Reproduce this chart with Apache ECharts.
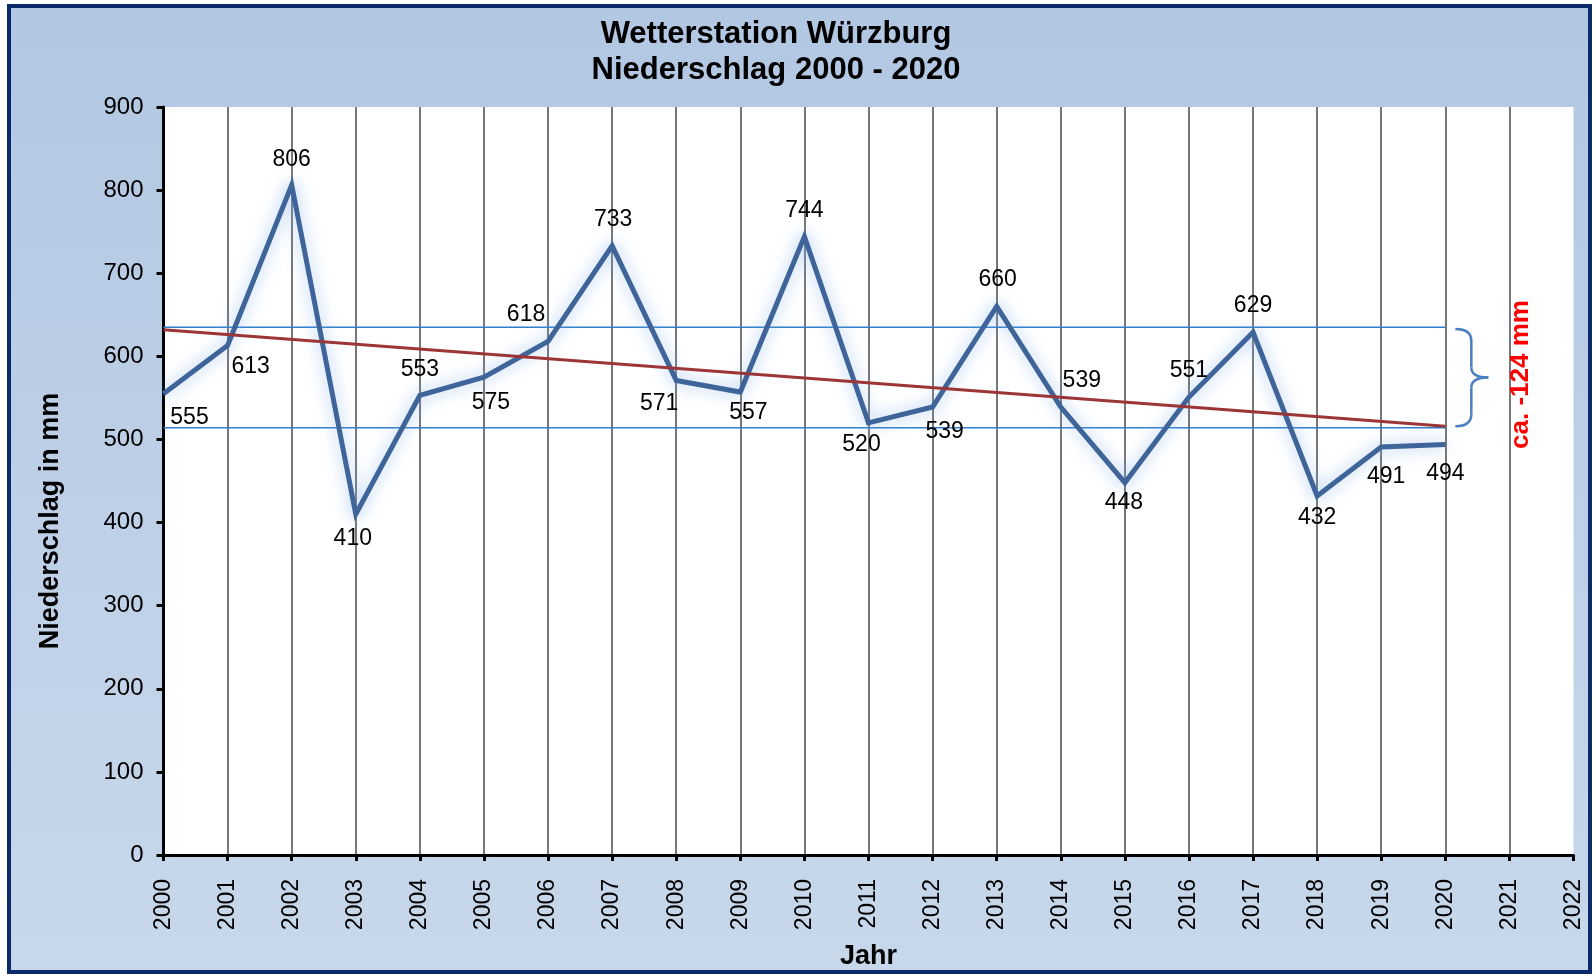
<!DOCTYPE html>
<html>
<head>
<meta charset="utf-8">
<title>Wetterstation Würzburg - Niederschlag</title>
<script src="https://cdn.jsdelivr.net/npm/echarts@6/dist/echarts.min.js"></script>
<style>
  html, body { margin: 0; padding: 0; background: #fff; }
  #frame {
    position: absolute; left: 7px; top: 4px; width: 1577px; height: 962px;
    border: 4px solid #0b2a6a;
    background: linear-gradient(to bottom, #b2c7e2, #c8d8eb);
  }
  #chart { position: absolute; left: 0; top: 0; width: 1596px; height: 977px; }
</style>
</head>
<body>
<div id="frame"></div>
<div id="chart"></div>
<script>
// Jahresniederschlag Würzburg (mm)
const years = [2000, 2001, 2002, 2003, 2004, 2005, 2006, 2007, 2008, 2009, 2010,
               2011, 2012, 2013, 2014, 2015, 2016, 2017, 2018, 2019, 2020];
const rain = [555, 613, 806, 410, 553, 575, 618, 733, 571, 557, 744,
              520, 539, 660, 539, 448, 551, 629, 432, 491, 494];

// Trendlinie (Anfang / Ende)
const trendYears = [2000, 2020];
const trendValues = [632, 516];

// Spanne der Trendlinie (obere / untere Hilfslinie)
const bandTop = 635;
const bandBottom = 514;
const bandNote = "ca. -124 mm";

// Beschriftungs-Versatz je Punkt (px, Mitte des Labels relativ zum Punkt)
const labelOffset = [
  [26, 24], [23, 21], [0, -25], [-3, 24], [0, -26], [7, 26], [-22, -27],
  [1, -26], [-17, 23], [8, 21], [0, -26], [-7, 22], [12, 25], [1, -27],
  [21, -26], [-1, 20], [0, -26], [0, -27], [0, 22], [5, 30], [0, 29]
];

const FONT = "Liberation Sans, Arial, sans-serif";

const chart = echarts.init(document.getElementById("chart"), null, { renderer: "canvas" });

const rainData = years.map((y, i) => ({
  value: [y, rain[i]],
  label: { offset: labelOffset[i] }
}));

chart.setOption({
  backgroundColor: "transparent",
  animation: false,
  title: {
    text: "Wetterstation Würzburg\nNiederschlag 2000 - 2020",
    left: 776,
    top: 16,
    padding: 0,
    textAlign: "center",
    textStyle: { fontFamily: FONT, fontSize: 31, fontWeight: "bold", color: "#000", lineHeight: 36 }
  },
  grid: {
    left: 163.5, right: 22.5, top: 107, bottom: 122,
    show: true, backgroundColor: "#fff", borderWidth: 0
  },
  xAxis: {
    type: "value",
    min: 2000, max: 2022, interval: 1,
    name: "Jahr",
    nameLocation: "middle",
    nameGap: 88,
    nameTextStyle: { fontFamily: FONT, fontSize: 27, fontWeight: "bold", color: "#000" },
    axisLine: { onZero: false, lineStyle: { color: "#000", width: 3 } },
    axisTick: { show: true, length: 6, lineStyle: { color: "#000", width: 3 } },
    axisLabel: {
      rotate: 90, margin: 24,
      fontFamily: FONT, fontSize: 23, color: "#000",
      formatter: v => String(v)
    },
    splitLine: { show: true, showMinLine: false, showMaxLine: false, lineStyle: { color: "#4a4a4a", width: 1.5 } }
  },
  yAxis: {
    type: "value",
    min: 0, max: 900, interval: 100,
    name: "Niederschlag in mm",
    nameLocation: "middle",
    nameGap: 99,
    nameRotate: 90,
    nameTextStyle: { fontFamily: FONT, fontSize: 27, fontWeight: "bold", color: "#000", padding: [0, 80, 0, 0] },
    axisLine: { show: true, lineStyle: { color: "#000", width: 3 } },
    axisTick: { show: true, length: 7, lineStyle: { color: "#000", width: 3 } },
    axisLabel: { margin: 20, fontFamily: FONT, fontSize: 24, color: "#000" },
    splitLine: { show: false }
  },
  series: [
    {
      name: "Obere Linie",
      type: "line",
      data: [[years[0], bandTop], [years[years.length - 1], bandTop]],
      symbol: "none",
      silent: true,
      lineStyle: { color: "#2f7fca", width: 1.5 },
      z: 2
    },
    {
      name: "Untere Linie",
      type: "line",
      data: [[years[0], bandBottom], [years[years.length - 1], bandBottom]],
      symbol: "none",
      silent: true,
      lineStyle: { color: "#2f7fca", width: 1.5 },
      z: 2
    },
    {
      name: "Niederschlag",
      type: "line",
      data: rainData,
      symbol: "circle",
      symbolSize: 1,
      showSymbol: true,
      itemStyle: { color: "#3e6499" },
      lineStyle: {
        color: "#3e6499", width: 5, join: "miter",
        shadowBlur: 16, shadowColor: "rgba(120,170,235,0.75)"
      },
      label: {
        show: true,
        position: "inside",
        fontFamily: FONT, fontSize: 23, color: "#000"
      },
      z: 3
    },
    {
      name: "Trend",
      type: "line",
      data: trendYears.map((y, i) => [y, trendValues[i]]),
      symbol: "none",
      silent: true,
      lineStyle: { color: "#9c3535", width: 3 },
      z: 4
    }
  ]
});

// geschweifte Klammer + Text rechts neben der Trendspanne
function drawBrace() {
  const endYear = years[years.length - 1];
  const pTop = chart.convertToPixel({ gridIndex: 0 }, [endYear, bandTop - 2]);
  const pBot = chart.convertToPixel({ gridIndex: 0 }, [endYear, bandBottom + 2]);
  const x0 = pTop[0] + 10, xm = x0 + 16, xt = xm + 17;
  const yt = pTop[1], yb = pBot[1], ym = (yt + yb) / 2;
  const braceStyle = { stroke: "#4b7fc2", lineWidth: 2.5, fill: null };
  chart.setOption({
    graphic: [
      { type: "bezierCurve", shape: { x1: x0, y1: yt, x2: xm, y2: yt + 12, cpx1: xm, cpy1: yt }, style: braceStyle, z: 10 },
      { type: "line", shape: { x1: xm, y1: yt + 12, x2: xm, y2: ym - 10 }, style: braceStyle, z: 10 },
      { type: "bezierCurve", shape: { x1: xm, y1: ym - 10, x2: xt, y2: ym, cpx1: xm, cpy1: ym }, style: braceStyle, z: 10 },
      { type: "bezierCurve", shape: { x1: xt, y1: ym, x2: xm, y2: ym + 10, cpx1: xm, cpy1: ym }, style: braceStyle, z: 10 },
      { type: "line", shape: { x1: xm, y1: ym + 10, x2: xm, y2: yb - 12 }, style: braceStyle, z: 10 },
      { type: "bezierCurve", shape: { x1: xm, y1: yb - 12, x2: x0, y2: yb, cpx1: xm, cpy1: yb }, style: braceStyle, z: 10 },
      {
        type: "text",
        x: xt + 33,
        y: ym - 3,
        rotation: Math.PI / 2,
        style: {
          text: bandNote,
          fill: "#ff0000",
          font: "bold 26px " + FONT,
          align: "center",
          verticalAlign: "middle"
        },
        z: 10
      }
    ]
  });
}
drawBrace();
</script>
</body>
</html>
